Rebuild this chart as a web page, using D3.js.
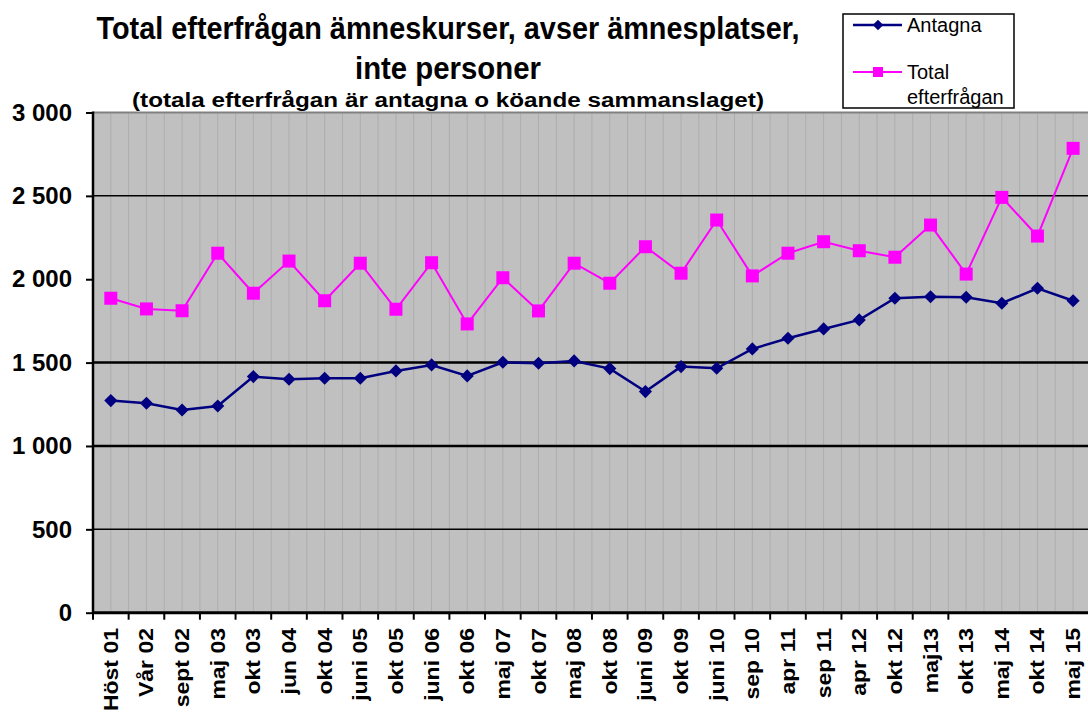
<!DOCTYPE html>
<html>
<head>
<meta charset="utf-8">
<script src="https://cdn.jsdelivr.net/npm/d3@7"></script>
<style>
  body { margin: 0; background: #fff; }
  svg { display: block; font-family: "Liberation Sans", Arial, sans-serif; }
</style>
</head>
<body>
<div id="chart"></div>
<script>
const categories = ["Höst 01","Vår 02","sept 02","maj 03","okt 03","jun 04","okt 04","juni 05","okt 05","juni 06",
  "okt 06","maj 07","okt 07","maj 08","okt 08","juni 09","okt 09","juni 10","sep 10","apr 11",
  "sep 11","apr 12","okt 12","maj13","okt 13","maj 14","okt 14","maj 15"];
const antagna = [1272,1256,1216,1240,1416,1400,1406,1406,1450,1486,1420,1502,1496,1510,1464,1326,1476,1466,1582,1646,
  1702,1756,1886,1895,1892,1856,1946,1871];
const total = [1886,1822,1811,2156,1916,2109,1871,2096,1820,2099,1732,2009,1810,2096,1976,2195,2036,2355,2020,2156,
  2225,2171,2132,2325,2031,2491,2259,2785];
const yTicks = [0,500,1000,1500,2000,2500,3000];
const gridVals = [500,1000,1500,2500]; // 2000 has no gridline in the original
const titleLines = ["Total efterfrågan ämneskurser, avser ämnesplatser,", "inte personer",
  "(totala efterfrågan är antagna o köande sammanslaget)"];

const width = 1088, height = 715;
const svg = d3.select("#chart").append("svg").attr("width", width).attr("height", height);

const plotLeft = 93, plotTop = 112.5, plotBottom = 612.7;
const band = 35.64;
const x = d3.scaleLinear().domain([0, categories.length]).range([plotLeft, plotLeft + band * categories.length]);
const y = d3.scaleLinear().domain([0, 3000]).range([plotBottom, plotTop]);
const fmt = d3.formatLocale({decimal: ",", thousands: " ", grouping: [3], currency: ["", ""]}).format(",");

// plot background
svg.append("rect").attr("x", plotLeft).attr("y", plotTop).attr("width", x(categories.length) - plotLeft)
  .attr("height", plotBottom - plotTop).attr("fill", "#c0c0c0");

// vertical minor grid (every half category)
svg.append("g").selectAll("line").data(d3.range(1, categories.length * 2 + 1))
  .enter().append("line")
  .attr("x1", d => x(d / 2)).attr("x2", d => x(d / 2))
  .attr("y1", plotTop).attr("y2", plotBottom)
  .attr("stroke", "#adadad").attr("stroke-width", 1);

// horizontal grid
svg.append("g").selectAll("line").data(gridVals)
  .enter().append("line")
  .attr("x1", plotLeft).attr("x2", width)
  .attr("y1", d => y(d)).attr("y2", d => y(d))
  .attr("stroke", "#000").attr("stroke-width", d => (d === 1000 || d === 1500) ? 2.5 : 1.5);

// top border
svg.append("line").attr("x1", plotLeft).attr("x2", width).attr("y1", plotTop).attr("y2", plotTop)
  .attr("stroke", "#808080").attr("stroke-width", 2);

// y axis
const yAxis = svg.append("g").attr("transform", `translate(${plotLeft},0)`)
  .call(d3.axisLeft(y).tickValues(yTicks).tickFormat(fmt).tickSize(7).tickPadding(14));
yAxis.select(".domain").remove();
yAxis.selectAll(".tick line").attr("stroke", "#000").attr("stroke-width", 2);
yAxis.selectAll("text").attr("font-size", 24).attr("font-weight", "bold").attr("fill", "#000")
  .attr("font-family", "Liberation Sans, Arial, sans-serif");
svg.append("line").attr("x1", plotLeft).attr("x2", plotLeft).attr("y1", plotTop - 1).attr("y2", plotBottom + 1)
  .attr("stroke", "#000").attr("stroke-width", 2.5);

// x axis
svg.append("line").attr("x1", plotLeft).attr("x2", width).attr("y1", plotBottom).attr("y2", plotBottom)
  .attr("stroke", "#000").attr("stroke-width", 3);
svg.append("g").selectAll("line").data(d3.range(0, 25))
  .enter().append("line")
  .attr("x1", d => x(d)).attr("x2", d => x(d))
  .attr("y1", plotBottom).attr("y2", plotBottom + 7)
  .attr("stroke", "#000").attr("stroke-width", 2);
svg.append("g").selectAll("text").data(categories)
  .enter().append("text")
  .attr("transform", (d, i) => `translate(${x(i + 0.5) + 7},${628}) rotate(-90) scale(1.15,1)`)
  .attr("text-anchor", "end")
  .attr("font-size", 20).attr("font-weight", "bold")
  .text(d => d);

// lines
const line = data => d3.line().x((d, i) => x(i + 0.5)).y(d => y(d))(data);
svg.append("path").attr("d", line(total)).attr("fill", "none").attr("stroke", "#ff00ff").attr("stroke-width", 2);
svg.append("path").attr("d", line(antagna)).attr("fill", "none").attr("stroke", "#000080").attr("stroke-width", 2.5);

const diamond = d3.symbol().type(d3.symbolDiamond2).size(110);
svg.append("g").selectAll("rect").data(total)
  .enter().append("rect")
  .attr("x", (d, i) => x(i + 0.5) - 6.5).attr("y", d => y(d) - 6.5)
  .attr("width", 13).attr("height", 13).attr("fill", "#ff00ff");
svg.append("g").selectAll("path").data(antagna)
  .enter().append("path")
  .attr("d", diamond)
  .attr("transform", (d, i) => `translate(${x(i + 0.5)},${y(d)})`)
  .attr("fill", "#000080");

// title (the original lettering is tall and condensed)
const titleSpecs = [
  {size: 25, yPos: 39, len: 703, sy: 1.22},
  {size: 25, yPos: 79, len: 186, sy: 1.22},
  {size: 19, yPos: 107, len: 632, sy: 1.1}
];
svg.append("g").selectAll("text").data(titleLines)
  .enter().append("text")
  .attr("transform", (d, i) => `translate(448,${titleSpecs[i].yPos}) scale(1,${titleSpecs[i].sy})`)
  .attr("text-anchor", "middle")
  .attr("font-size", (d, i) => titleSpecs[i].size).attr("font-weight", "bold")
  .attr("textLength", (d, i) => titleSpecs[i].len).attr("lengthAdjust", "spacingAndGlyphs")
  .text(d => d);

// legend
const lg = svg.append("g");
lg.append("rect").attr("x", 843).attr("y", 14).attr("width", 171).attr("height", 94)
  .attr("fill", "#fff").attr("stroke", "#000").attr("stroke-width", 1.5);
lg.append("line").attr("x1", 853).attr("x2", 902).attr("y1", 25).attr("y2", 25)
  .attr("stroke", "#000080").attr("stroke-width", 2.5);
lg.append("path").attr("d", d3.symbol().type(d3.symbolDiamond2).size(70)).attr("transform", "translate(878,25)").attr("fill", "#000080");
lg.append("line").attr("x1", 853).attr("x2", 902).attr("y1", 72).attr("y2", 72)
  .attr("stroke", "#ff00ff").attr("stroke-width", 2);
lg.append("rect").attr("x", 873).attr("y", 67).attr("width", 10).attr("height", 10).attr("fill", "#ff00ff");
lg.append("text").attr("x", 907).attr("y", 32).attr("font-size", 20).text("Antagna");
lg.append("text").attr("x", 907).attr("y", 79).attr("font-size", 20).text("Total");
lg.append("text").attr("x", 907).attr("y", 104).attr("font-size", 20).text("efterfrågan");
</script>
</body>
</html>
